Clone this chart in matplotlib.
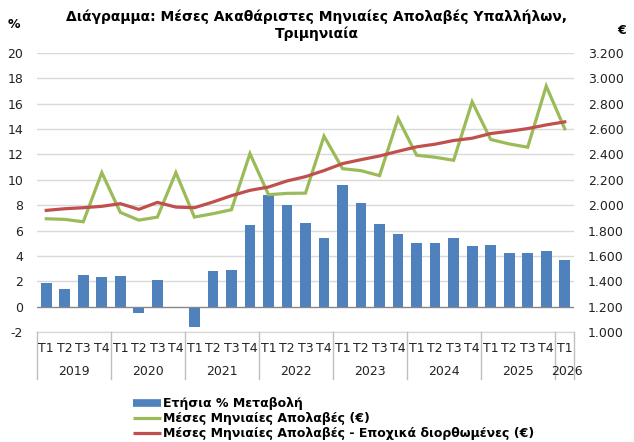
import matplotlib
matplotlib.use("Agg")
import matplotlib.pyplot as plt
from matplotlib.ticker import FuncFormatter, MultipleLocator
from matplotlib.transforms import blended_transform_factory
from matplotlib.lines import Line2D

years = ["2019", "2020", "2021", "2022", "2023", "2024", "2025", "2026"]
quarters_per_year = [4, 4, 4, 4, 4, 4, 4, 1]
quarter_names = ["T1", "T2", "T3", "T4"]

annual_change = [1.9, 1.4, 2.5, 2.35, 2.4, -0.5, 2.1, 0.0,
                 -1.6, 2.8, 2.85, 6.4, 8.8, 8.0, 6.6, 5.4,
                 9.6, 8.15, 6.55, 5.75, 5.0, 5.0, 5.4, 4.8,
                 4.85, 4.2, 4.25, 4.35, 3.7]
monthly_avg = [1893, 1888, 1869, 2257, 1943, 1882, 1906, 2257,
               1906, 1933, 1964, 2407, 2083, 2093, 2095, 2544,
               2288, 2272, 2233, 2684, 2394, 2378, 2354, 2815,
               2518, 2483, 2457, 2939, 2602]
monthly_sa = [1959, 1972, 1980, 1991, 2012, 1967, 2022, 1985,
              1980, 2025, 2075, 2117, 2143, 2191, 2225, 2273,
              2328, 2359, 2388, 2425, 2460, 2481, 2510, 2528,
              2565, 2583, 2604, 2633, 2657]

title = "Διάγραμμα: Μέσες Ακαθάριστες Μηνιαίες Απολαβές Υπαλλήλων,\nΤριμηνιαία"
legend_labels = ["Ετήσια % Μεταβολή",
                 "Μέσες Μηνιαίες Απολαβές (€)",
                 "Μέσες Μηνιαίες Απολαβές - Εποχικά διορθωμένες (€)"]

BLUE = "#4F81BD"
GREEN = "#9BBB59"
RED = "#C0504D"

plt.rcParams['font.family'] = ['DejaVu Sans']
plt.rcParams['axes.unicode_minus'] = False
fig = plt.figure(figsize=(6.34, 4.42), dpi=100)
ax = fig.add_axes([37/634, 1-332/442, (574-37)/634, (332-53)/442])
ax2 = ax.twinx()

x = list(range(len(annual_change)))
ax.bar(x, annual_change, width=0.58, color=BLUE, zorder=3)
ax.axhline(0, color="#868686", lw=0.9, zorder=4)
ax.set_ylim(-2, 20)
ax.yaxis.set_major_locator(MultipleLocator(2))
ax.set_xlim(-0.5, len(x) - 0.5)
ax.grid(axis="y", color="#D9D9D9", lw=1, zorder=0)
ax.set_axisbelow(True)
ax.set_xticks([])
for s in ax.spines.values():
    s.set_visible(False)
for s in ax2.spines.values():
    s.set_visible(False)
ax.tick_params(axis="y", length=0, labelsize=9, pad=10, colors="#222222")

ax2.plot(x, monthly_avg, color=GREEN, lw=2.3, zorder=5, solid_joinstyle="miter")
ax2.plot(x, monthly_sa, color=RED, lw=2.3, zorder=6)
ax2.set_ylim(1000, 3200)
ax2.yaxis.set_major_locator(MultipleLocator(200))
ax2.yaxis.set_major_formatter(FuncFormatter(lambda v, p: f"{int(v):,}".replace(",", ".")))
ax2.tick_params(axis="y", length=0, labelsize=9, pad=10, colors="#222222")
ax.set_zorder(ax2.get_zorder() - 1)
ax2.patch.set_visible(False)

# category axis labels
tr = blended_transform_factory(ax.transData, ax.transAxes)
sep_color = "#BFBFBF"
pos = 0
ax.plot([-0.5, len(x) - 0.5], [0, 0], transform=tr, color="#D9D9D9", lw=1, clip_on=False)
for yr, nq in zip(years, quarters_per_year):
    start = pos
    for q in range(nq):
        ax.text(pos, -0.058, quarter_names[q], transform=tr, ha="center", va="center",
                fontsize=9, color="#222222")
        pos += 1
    ax.text((start + pos - 1) / 2 + (0.1 if nq == 1 else 0), -0.143, yr, transform=tr,
            ha="center", va="center", fontsize=9, color="#222222")
    ax.plot([start - 0.5, start - 0.5], [0, -0.168], transform=tr, color=sep_color,
            lw=1, clip_on=False)
ax.plot([pos - 0.5, pos - 0.5], [0, -0.168], transform=tr, color=sep_color, lw=1, clip_on=False)

fig.text(0.5, 1 - 25/442, title, ha="center", va="center", fontsize=10,
         fontweight="bold", linespacing=1.2)
fig.text(14/634, 1 - 24/442, "%", ha="center", va="center", fontsize=9, fontweight="bold")
fig.text(622/634, 1 - 30/442, "€", ha="center", va="center", fontsize=9, fontweight="bold")

handles = [Line2D([], [], color=BLUE, lw=5.5, solid_capstyle="butt"),
           Line2D([], [], color=GREEN, lw=2.3, solid_capstyle="butt"),
           Line2D([], [], color=RED, lw=2.3, solid_capstyle="butt")]
leg = fig.legend(handles, legend_labels, loc="upper left",
                 bbox_to_anchor=(127/634, 1 - 391/442), frameon=False,
                 prop={"size": 9, "weight": "bold"}, handlelength=2.2,
                 labelspacing=0.15, borderpad=0, handletextpad=0.2)

fig.savefig("out.png", dpi=100)
